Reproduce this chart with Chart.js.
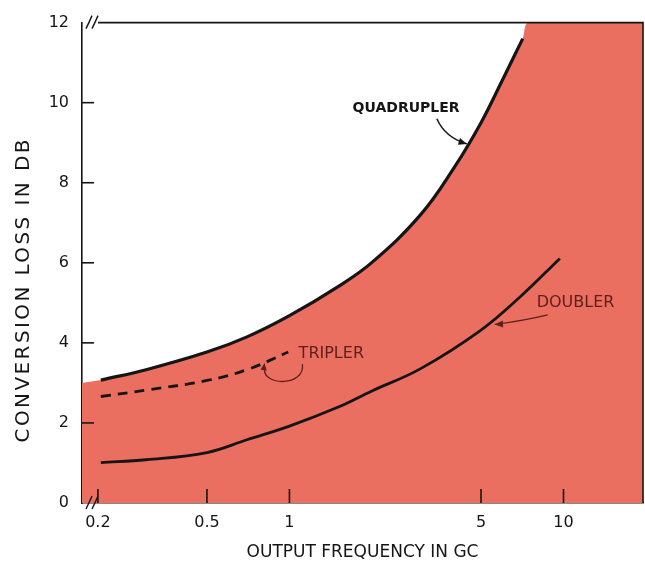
<!DOCTYPE html>
<html>
<head>
<meta charset="utf-8">
<script src="https://cdn.jsdelivr.net/npm/chart.js@4.4.1/dist/chart.umd.min.js"></script>
<style>
html, body { margin: 0; padding: 0; background: #fff; }
canvas { display: block; }
</style>
</head>
<body>
<canvas id="canvas" width="645" height="564"></canvas>
<script>
const xTickValues = [0.2, 0.5, 1, 5, 10];
const yTickValues = [0, 2, 4, 6, 8, 10, 12];

const quadFreq = [0.205, 0.3, 0.5, 0.7, 1, 1.5, 2, 3, 4, 5, 6, 7.1];
const quadLoss = [3.07, 3.33, 3.77, 4.15, 4.68, 5.4, 6.01, 7.19, 8.39, 9.5, 10.58, 11.6];

const triplerFreq = [0.205, 0.3, 0.5, 0.7, 0.99];
const triplerLoss = [2.66, 2.82, 3.06, 3.33, 3.77];

const doublerFreq = [0.205, 0.3, 0.5, 0.7, 1, 1.5, 2, 3, 5, 7, 9.7];
const doublerLoss = [1.01, 1.08, 1.26, 1.58, 1.92, 2.39, 2.8, 3.35, 4.32, 5.17, 6.11];

// upper edge of the shaded area
const shadeFreq = [0.175, 0.205, 0.3, 0.5, 0.7, 1, 1.5, 2, 3, 4, 5, 6, 7.1, 7.45, 19.5];
const shadeLoss = [3.0, 3.07, 3.33, 3.77, 4.15, 4.68, 5.4, 6.01, 7.19, 8.39, 9.5, 10.58, 11.6, 12, 12];

const RED = '#eb6f60';
const INK = '#151515';
const LABEL_RED = '#5e201b';

Chart.defaults.font.family = "'DejaVu Sans', sans-serif";
Chart.defaults.color = INK;

function points(xs, ys) {
    return xs.map((x, i) => ({ x: x, y: ys[i] }));
}

function arrowHead(ctx, fromX, fromY, toX, toY, size) {
    const a = Math.atan2(toY - fromY, toX - fromX);
    ctx.beginPath();
    ctx.moveTo(toX, toY);
    ctx.lineTo(toX - size * Math.cos(a - 0.4), toY - size * Math.sin(a - 0.4));
    ctx.lineTo(toX - size * Math.cos(a + 0.4), toY - size * Math.sin(a + 0.4));
    ctx.closePath();
    ctx.fill();
}

const decorations = {
    id: 'decorations',
    afterDraw(chart) {
        const { ctx, chartArea, scales: { x, y } } = chart;
        const px = v => x.getPixelForValue(v);
        const py = v => y.getPixelForValue(v);
        const left = chartArea.left, right = chartArea.right;
        const top = chartArea.top, bottom = chartArea.bottom;

        ctx.save();
        ctx.strokeStyle = INK;
        ctx.lineWidth = 1.6;

        // frame on top and right
        ctx.beginPath();
        ctx.moveTo(left + 16, top);
        ctx.lineTo(right, top);
        ctx.lineTo(right, bottom);
        ctx.stroke();

        // tick marks drawn inside the plot
        yTickValues.forEach(v => {
            if (v === 0 || v === 12) return;
            ctx.beginPath();
            ctx.moveTo(left, py(v));
            ctx.lineTo(left + 12, py(v));
            ctx.stroke();
        });
        xTickValues.forEach(v => {
            ctx.beginPath();
            ctx.moveTo(px(v), bottom);
            ctx.lineTo(px(v), bottom - 14);
            ctx.stroke();
        });

        // axis break marks
        ctx.lineWidth = 1.4;
        [[left + 4, top], [left + 4, bottom]].forEach(([bx, by]) => {
            ctx.beginPath();
            ctx.moveTo(bx, by + 6);
            ctx.quadraticCurveTo(bx + 3, by, bx + 6, by - 7);
            ctx.moveTo(bx + 6, by + 6);
            ctx.quadraticCurveTo(bx + 9, by, bx + 12, by - 7);
            ctx.stroke();
        });

        // y axis title, letter spaced like the original lettering
        ctx.save();
        ctx.fillStyle = INK;
        ctx.font = "20px 'DejaVu Sans'";
        if ('letterSpacing' in ctx) ctx.letterSpacing = '2.4px';
        ctx.translate(24, (top + bottom) / 2 + 27);
        ctx.rotate(-Math.PI / 2);
        ctx.textAlign = 'center';
        ctx.textBaseline = 'middle';
        ctx.fillText('CONVERSION LOSS IN DB', 0, 0);
        ctx.restore();

        // curve labels
        ctx.textBaseline = 'middle';
        ctx.textAlign = 'left';
        ctx.fillStyle = INK;
        ctx.font = "bold 14px 'DejaVu Sans'";
        ctx.fillText('QUADRUPLER', px(1.7), py(9.85));

        ctx.fillStyle = LABEL_RED;
        ctx.font = "16px 'DejaVu Sans'";
        ctx.fillText('TRIPLER', px(1.08), py(3.72));
        ctx.fillText('DOUBLER', px(7.98), py(5.0));

        // leader arrows
        ctx.lineWidth = 1.5;
        ctx.strokeStyle = INK;
        ctx.fillStyle = INK;
        ctx.beginPath();
        ctx.moveTo(px(3.45), py(9.6));
        ctx.quadraticCurveTo(px(3.69), py(9.14), px(4.44), py(8.97));
        ctx.stroke();
        arrowHead(ctx, px(3.69), py(9.14), px(4.44), py(8.97), 9);

        ctx.strokeStyle = LABEL_RED;
        ctx.fillStyle = LABEL_RED;
        ctx.lineWidth = 1.3;
        ctx.beginPath();
        ctx.moveTo(px(1.115), py(3.47));
        ctx.bezierCurveTo(px(1.143), py(2.91), px(0.798), py(2.91), px(0.811), py(3.36));
        ctx.stroke();
        arrowHead(ctx, px(0.798), py(3.1), px(0.811), py(3.5), 8);

        ctx.beginPath();
        ctx.moveTo(px(8.76), py(4.7));
        ctx.quadraticCurveTo(px(7.22), py(4.56), px(5.61), py(4.46));
        ctx.stroke();
        arrowHead(ctx, px(7.22), py(4.5), px(5.61), py(4.46), 9);

        ctx.restore();
    }
};

const config = {
    type: 'line',
    data: {
        datasets: [
            {
                label: 'Quadrupler',
                data: points(quadFreq, quadLoss),
                borderColor: INK,
                borderWidth: 3.2,
                pointRadius: 0,
                tension: 0.4,
                fill: false,
                order: 1
            },
            {
                label: 'Tripler',
                data: points(triplerFreq, triplerLoss),
                borderColor: INK,
                borderWidth: 2.8,
                borderDash: [10, 7],
                pointRadius: 0,
                tension: 0.4,
                fill: false,
                order: 1
            },
            {
                label: 'Doubler',
                data: points(doublerFreq, doublerLoss),
                borderColor: INK,
                borderWidth: 2.8,
                pointRadius: 0,
                tension: 0.4,
                fill: false,
                order: 1
            },
            {
                label: 'Region',
                data: points(shadeFreq, shadeLoss),
                borderWidth: 0,
                borderColor: 'rgba(0,0,0,0)',
                backgroundColor: RED,
                pointRadius: 0,
                tension: 0.3,
                fill: 'start',
                order: 10
            }
        ]
    },
    options: {
        responsive: false,
        animation: false,
        layout: { padding: { top: 14, right: 2, left: 0, bottom: 0 } },
        plugins: {
            legend: { display: false },
            tooltip: { enabled: false }
        },
        scales: {
            x: {
                type: 'logarithmic',
                min: 0.175,
                max: 19.5,
                grid: { display: false, drawTicks: false },
                border: { display: true, color: INK, width: 1.6 },
                afterBuildTicks: scale => {
                    scale.ticks = xTickValues.map(v => ({ value: v }));
                },
                afterFit: scale => { scale.height = 61; },
                ticks: {
                    autoSkip: false,
                    maxRotation: 0,
                    padding: 10,
                    font: { size: 16 },
                    callback: value => String(value)
                },
                title: {
                    display: true,
                    text: 'OUTPUT FREQUENCY IN GC',
                    font: { size: 17 },
                    padding: { top: 0, bottom: 1 }
                }
            },
            y: {
                min: 0,
                max: 12,
                grid: { display: false, drawTicks: false },
                border: { display: true, color: INK, width: 1.6 },
                afterBuildTicks: scale => {
                    scale.ticks = yTickValues.map(v => ({ value: v }));
                },
                afterFit: scale => { scale.width = 82; },
                ticks: {
                    padding: 13,
                    font: { size: 16 }
                },
                title: { display: false }
            }
        }
    },
    plugins: [decorations]
};

new Chart(document.getElementById('canvas'), config);
</script>
</body>
</html>
